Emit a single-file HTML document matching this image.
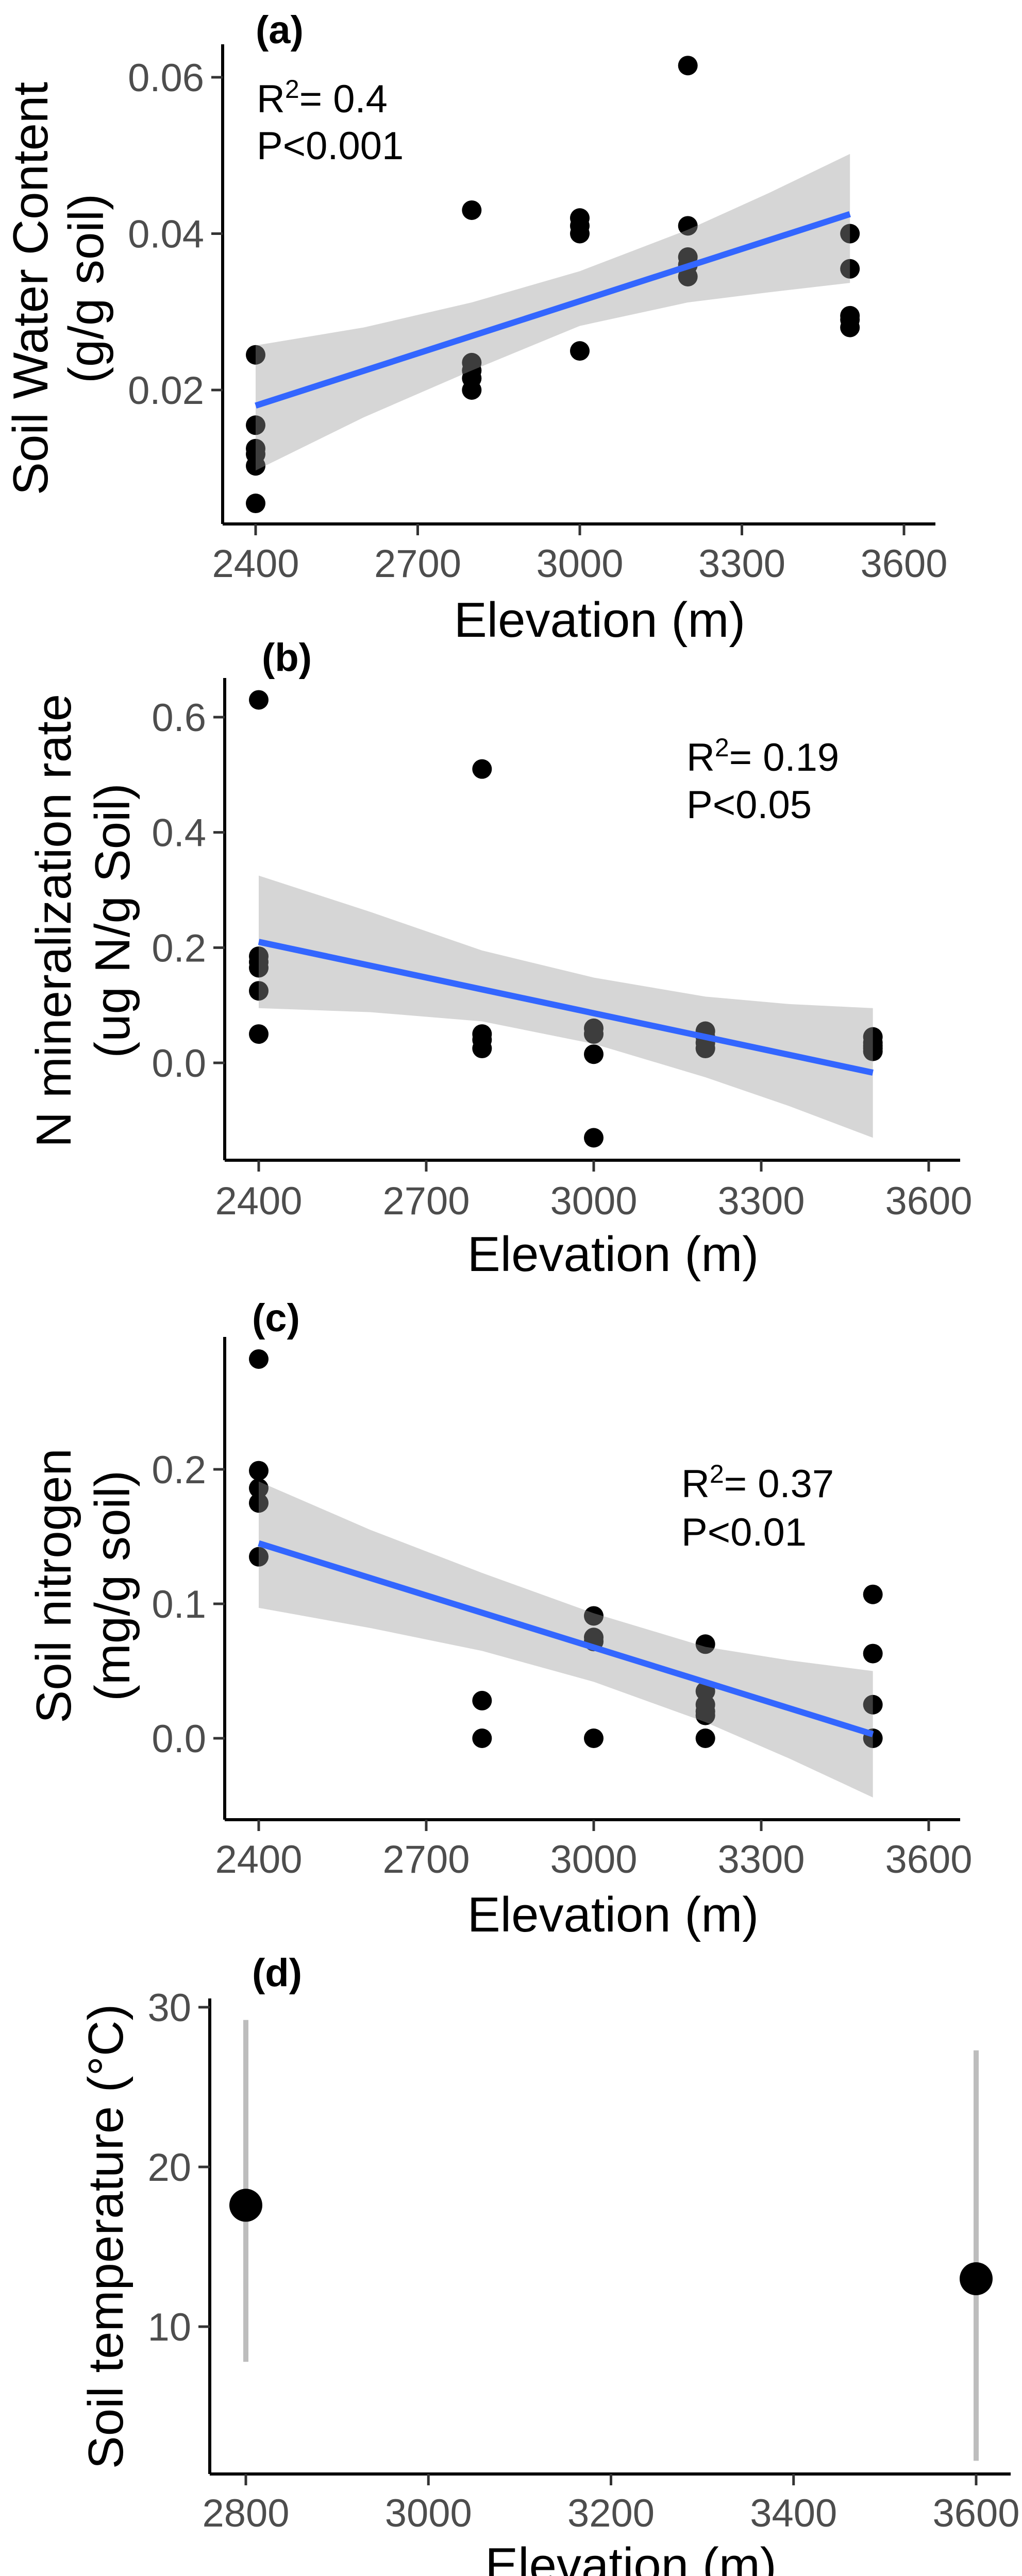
<!DOCTYPE html>
<html><head><meta charset="utf-8"><style>
html,body{margin:0;padding:0;background:#fff;overflow:hidden;width:1983px;height:5049px}
svg{display:block}
text{font-family:"Liberation Sans",Arial,sans-serif}
</style></head><body>
<svg id="fig" width="1983" height="5049" viewBox="0 0 1983 5049" xmlns="http://www.w3.org/2000/svg"></svg>
<script>
// ---------- Panel (a) data ----------
const aX = [2400,2400,2400,2400,2400,2400, 2800,2800,2800,2800,2800, 3000,3000,3000,3000, 3200,3200,3200,3200,3200, 3500,3500,3500,3500,3500];
const aY = [0.0245,0.0155,0.0125,0.0118,0.0103,0.0055, 0.043,0.0235,0.0225,0.0215,0.020, 0.042,0.041,0.040,0.025, 0.0615,0.041,0.037,0.036,0.0345, 0.040,0.0355,0.0295,0.029,0.028];
const aFitX = [2400,3500];
const aFitY = [0.018,0.0425];
const aCiX = [2400,2600,2800,3000,3200,3350,3500];
const aCiUp = [0.0257,0.028,0.0312,0.0352,0.0405,0.0452,0.0502];
const aCiLo = [0.0097,0.0165,0.0225,0.0282,0.0312,0.0325,0.0337];
const aXTicks = [2400,2700,3000,3300,3600];
const aYTicks = [0.02,0.04,0.06];
const aYLabels = ["0.02","0.04","0.06"];

// ---------- Panel (b) data ----------
const bX = [2400,2400,2400,2400,2400,2400, 2800,2800,2800,2800, 3000,3000,3000,3000, 3200,3200,3200,3200, 3500,3500,3500,3500,3500];
const bY = [0.63,0.185,0.175,0.165,0.125,0.05, 0.05,0.04,0.025,0.51, 0.06,0.05,0.015,-0.13, 0.055,0.045,0.035,0.025, 0.045,0.035,0.03,0.025,0.02];
const bFitX = [2400,3500];
const bFitY = [0.21,-0.017];
const bCiX = [2400,2600,2800,3000,3200,3350,3500];
const bCiUp = [0.325,0.262,0.195,0.148,0.115,0.102,0.095];
const bCiLo = [0.095,0.088,0.072,0.033,-0.025,-0.075,-0.13];
const bXTicks = [2400,2700,3000,3300,3600];
const bYTicks = [0.0,0.2,0.4,0.6];
const bYLabels = ["0.0","0.2","0.4","0.6"];

// ---------- Panel (c) data ----------
const cX = [2400,2400,2400,2400,2400, 2800,2800, 3000,3000,3000,3000, 3200,3200,3200,3200,3200,3200, 3500,3500,3500,3500];
const cY = [0.282,0.199,0.186,0.175,0.135, 0.028,0.0, 0.091,0.075,0.072,0.0, 0.07,0.035,0.025,0.02,0.017,0.0, 0.107,0.063,0.025,0.0];
const cFitX = [2400,3500];
const cFitY = [0.145,0.003];
const cCiX = [2400,2600,2800,3000,3200,3350,3500];
const cCiUp = [0.191,0.155,0.123,0.093,0.068,0.058,0.05];
const cCiLo = [0.097,0.082,0.065,0.042,0.012,-0.015,-0.044];
const cXTicks = [2400,2700,3000,3300,3600];
const cYTicks = [0.0,0.1,0.2];
const cYLabels = ["0.0","0.1","0.2"];

// ---------- Panel (d) data ----------
const dX = [2800,3600];
const dMean = [17.6,13.0];
const dHi = [29.2,27.3];
const dLo = [7.8,1.6];
const dXTicks = [2800,3000,3200,3400,3600];
const dYTicks = [10,20,30];
const dYLabels = ["10","20","30"];

const NS = "http://www.w3.org/2000/svg";
const svg = document.getElementById('fig');
function mk(tag, attrs, parent){
  const e = document.createElementNS(NS, tag);
  for (const k in attrs) e.setAttribute(k, attrs[k]);
  (parent||svg).appendChild(e);
  return e;
}
function lin(d0,d1,r0,r1){ return v => r0 + (v-d0)*(r1-r0)/(d1-d0); }

function axes(g, P, xs, ys, xTicks, xTickLabels, yTicks, yLabels){
  const xa = mk('line',{x1:P.left,y1:P.bottom,x2:P.right,y2:P.bottom,stroke:'#000','stroke-width':6},g);
  
  
  const ya = mk('line',{x1:P.left,y1:P.top,x2:P.left,y2:P.bottom,stroke:'#000','stroke-width':6},g);
  
  
  xTicks.forEach((t,i)=>{
    const x = xs(t);
    const tk = mk('line',{x1:x,y1:P.bottom,x2:x,y2:P.bottom+22,stroke:'#333','stroke-width':5},g);
    
    
    const tl = mk('text',{x:x,y:P.xLabY,'font-size':76,fill:'#4d4d4d','text-anchor':'middle'},g);
    
    
    tl.textContent = xTickLabels[i];
  });
  yTicks.forEach((t,i)=>{
    const y = ys(t);
    const tk = mk('line',{x1:P.left-22,y1:y,x2:P.left,y2:y,stroke:'#333','stroke-width':5},g);
    
    
    const tl = mk('text',{x:P.left-36,y:y+27,'font-size':76,fill:'#4d4d4d','text-anchor':'end'},g);
    
    
    tl.textContent = yLabels[i];
  });
  const xt = mk('text',{x:(P.left+P.right)/2+40,y:P.xTitleY,'font-size':96,fill:'#000','text-anchor':'middle'},g);
  
  
  xt.textContent = 'Elevation (m)';
}

// centers: x-centre of each rotated line; baseline = centre + 35
function yTitle(g, lines, centers, cy){
  lines.forEach((s,i)=>{
    const t = mk('text',{x:0,y:0,'font-size':96,fill:'#000','text-anchor':'middle',
      transform:'translate('+(centers[i]+35)+','+cy+') rotate(-90)'},g);
    
    
    t.textContent = s;
  });
}

function label(g, txt, x, y){
  const t = mk('text',{x:x,y:y,'font-size':76,'font-weight':'bold',fill:'#000'},g);
  
  
  t.textContent = txt;
}

function stats(g, r2, p, x, y1, y2){
  const t = mk('text',{x:x,y:y1,'font-size':76,fill:'#000'},g);
  
  
  t.appendChild(document.createTextNode('R'));
  const s = mk('tspan',{'font-size':50,dy:-28},t);
  s.textContent='2';
  const s2 = mk('tspan',{dy:28},t);
  s2.textContent='= '+r2;
  const t2 = mk('text',{x:x,y:y2,'font-size':76,fill:'#000'},g);
  
  
  t2.textContent = p;
}

function scatterPanel(name, P, X, Y, fitX, fitY, ciX, ciUp, ciLo, xTicks, yTicks, yLabels){
  const g = mk('g',{});
  
  
  const xs = lin(P.xd0,P.xd1,P.xr0,P.xr1);
  const ys = lin(P.yd0,P.yd1,P.yr0,P.yr1);
  X.forEach((x,i)=>{
    const c = mk('circle',{cx:xs(x),cy:ys(Y[i]),r:19,fill:'#000'},g);
    
    
  });
  let d = '';
  ciX.forEach((x,i)=>{ d += (i?'L':'M')+xs(x)+','+ys(ciUp[i]); });
  for (let i=ciX.length-1;i>=0;i--) d += 'L'+xs(ciX[i])+','+ys(ciLo[i]);
  d += 'Z';
  const rb = mk('path',{d:d,fill:'#999999','fill-opacity':0.4},g);
  
  
  const ln = mk('line',{x1:xs(fitX[0]),y1:ys(fitY[0]),x2:xs(fitX[1]),y2:ys(fitY[1]),stroke:'#3366FF','stroke-width':12},g);
  
  
  axes(g, P, xs, ys, xTicks, xTicks.map(String), yTicks, yLabels);
  return g;
}

// Panel a
const PA = {left:432,right:1815,top:86,bottom:1017,xd0:2400,xd1:3600,xr0:496,xr1:1754,yd0:0.02,yd1:0.06,yr0:757,yr1:150,xLabY:1120,xTitleY:1236};
const gA = scatterPanel('panel-a-soil-water', PA, aX,aY,aFitX,aFitY,aCiX,aCiUp,aCiLo,aXTicks,aYTicks,aYLabels);
yTitle(gA, ['Soil Water Content','(g/g soil)'], [57,165], 560);
label(gA,'(a)',496,84);
stats(gA,'0.4','P<0.001',498,218,309);

// Panel b
const PB = {left:436,right:1863,top:1316,bottom:2252,xd0:2400,xd1:3600,xr0:502,xr1:1802,yd0:0,yd1:0.6,yr0:2063,yr1:1392,xLabY:2357,xTitleY:2467};
const gB = scatterPanel('panel-b-n-mineralization', PB, bX,bY,bFitX,bFitY,bCiX,bCiUp,bCiLo,bXTicks,bYTicks,bYLabels);
yTitle(gB, ['N mineralization rate','(ug N/g Soil)'], [102,216], 1787);
label(gB,'(b)',508,1302);
stats(gB,'0.19','P<0.05',1332,1496,1588);

// Panel c
const PC = {left:436,right:1863,top:2595,bottom:3532,xd0:2400,xd1:3600,xr0:502,xr1:1802,yd0:0,yd1:0.2,yr0:3374,yr1:2852,xLabY:3635,xTitleY:3749};
const gC = scatterPanel('panel-c-soil-nitrogen', PC, cX,cY,cFitX,cFitY,cCiX,cCiUp,cCiLo,cXTicks,cYTicks,cYLabels);
yTitle(gC, ['Soil nitrogen','(mg/g soil)'], [102,216], 3078);
label(gC,'(c)',489,2584);
stats(gC,'0.37','P<0.01',1322,2906,3000);

// Panel d
(function(){
  const P = {left:407,right:1961,top:3879,bottom:4802,xLabY:4904,xTitleY:5012};
  const g = mk('g',{});
  
  
  const xs = lin(2800,3600,477,1894);
  const ys = lin(10,30,4516,3896);
  dX.forEach((x,i)=>{
    const eb = mk('line',{x1:xs(x),y1:ys(dHi[i]),x2:xs(x),y2:ys(dLo[i]),stroke:'#bdbdbd','stroke-width':10},g);
    
    
    const c = mk('circle',{cx:xs(x),cy:ys(dMean[i]),r:32,fill:'#000'},g);
    
    
  });
  axes(g, P, xs, ys, dXTicks, dXTicks.map(String), dYTicks, dYLabels);
  const t = mk('text',{x:0,y:0,'font-size':96,fill:'#000','text-anchor':'middle',transform:'translate(238,4341) rotate(-90)'},g);
  
  
  t.textContent = 'Soil temperature (°C)';
  label(g,'(d)',489,3855);
})();
</script>
</body></html>
